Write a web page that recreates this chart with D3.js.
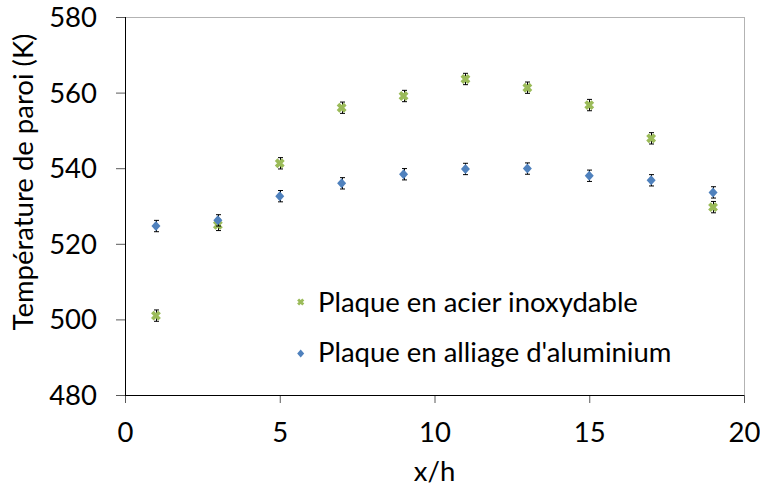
<!DOCTYPE html>
<html><head><meta charset="utf-8">
<script src="https://cdn.jsdelivr.net/npm/d3@7"></script>
<style>body{margin:0;background:#fff}svg{display:block}text{font-family:Lato,"Open Sans",sans-serif;fill:#000}</style>
</head><body>
<svg id="c" width="760" height="488"></svg>
<script>
// ---- data ----
const xValues = [1, 3, 5, 7, 9, 11, 13, 15, 17, 19];
const steel = [501.0, 525.0, 541.3, 556.0, 559.1, 563.6, 561.3, 556.7, 547.9, 529.7];
const steelErr = [1.5, 1.5, 1.5, 1.5, 1.5, 1.5, 1.5, 1.5, 1.5, 1.5];
const alu = [524.7, 526.2, 532.6, 536.0, 538.4, 539.8, 539.9, 538.0, 536.8, 533.6];
const aluErr = [1.5, 1.5, 1.5, 1.5, 1.5, 1.5, 1.5, 1.5, 1.5, 1.5];
const xTicks = [0, 5, 10, 15, 20];
const yTicks = [480, 500, 520, 540, 560, 580];
const seriesNames = ["Plaque en acier inoxydable", "Plaque en alliage d'aluminium"];
const xTitle = "x/h";
const yTitle = "Température de paroi (K)";

const svg = d3.select("#c");
const L = 125, R = 744, T = 17, B = 395;
const x = d3.scaleLinear().domain([0, 20]).range([L, R]);
const y = d3.scaleLinear().domain([480, 580]).range([B, T]);
const green = "#9BBB59", blue = "#4F81BD";

// font fitting from legend width
const probe = svg.append("text").attr("font-size", 100).text(seriesNames[0]);
const fs = 100 * 320 / probe.node().getComputedTextLength();
probe.remove();

// plot border (top/right gray)
svg.append("path").attr("d", `M${L},${T}H${R}V${B}`).attr("fill", "none").attr("stroke", "#b3b3b3").attr("stroke-width", 1).attr("shape-rendering", "crispEdges");

// axes
const yAxis = d3.axisLeft(y).tickValues(yTicks).tickSize(9).tickPadding(0).tickFormat(d3.format("d"));
const gy = svg.append("g").attr("transform", `translate(${L},0)`).call(yAxis);
gy.select(".domain").remove();
gy.selectAll(".tick line").attr("stroke", "#595959");
gy.selectAll(".tick text").attr("x", -28).attr("dy", null).attr("y", 9.5).attr("text-anchor", "end")
  .attr("font-family", "Lato").style("font-size", fs + "px");

const xAxis = d3.axisBottom(x).tickValues(xTicks).tickSize(8).tickPadding(0);
const gx = svg.append("g").attr("transform", `translate(0,${B})`).call(xAxis);
gx.select(".domain").remove();
gx.selectAll(".tick line").attr("stroke", "#595959");
gx.selectAll(".tick text").attr("dy", null).attr("y", 47).attr("text-anchor", "middle")
  .style("font-size", fs + "px").attr("font-family", "Lato");

svg.append("line").attr("x1", L).attr("x2", L).attr("y1", T).attr("y2", B).attr("stroke", "#000").attr("shape-rendering", "crispEdges");
svg.append("line").attr("x1", L).attr("x2", R).attr("y1", B).attr("y2", B).attr("stroke", "#000").attr("shape-rendering", "crispEdges");

// titles
svg.append("text").attr("x", (L + R) / 2).attr("y", 481).attr("text-anchor", "middle").style("font-size", fs + "px").text(xTitle);
svg.append("text").attr("transform", `translate(33,182) rotate(-90)`).attr("text-anchor", "middle").style("font-size", fs + "px").text(yTitle);

// series
function errBars(vals, errs) {
  const g = svg.append("g").attr("stroke", "#000").attr("stroke-width", 1);
  xValues.forEach((xv, i) => {
    const cx = Math.round(x(xv)) + 0.5;
    const y1 = y(vals[i] + errs[i]), y2 = y(vals[i] - errs[i]);
    g.append("line").attr("x1", cx).attr("x2", cx).attr("y1", y1).attr("y2", y2);
    g.append("line").attr("x1", cx - 2.5).attr("x2", cx + 2.5).attr("y1", y1).attr("y2", y1);
    g.append("line").attr("x1", cx - 2.5).attr("x2", cx + 2.5).attr("y1", y2).attr("y2", y2);
  });
}
function xMark(cx, cy, s, w) {
  return svg.append("path").attr("d", `M${cx - s},${cy - s}L${cx + s},${cy + s}M${cx - s},${cy + s}L${cx + s},${cy - s}`)
    .attr("stroke", green).attr("stroke-width", w).attr("fill", "none");
}
function diamond(cx, cy, hw, hh) {
  return svg.append("path").attr("d", `M${cx},${cy - hh}L${cx + hw},${cy}L${cx},${cy + hh}L${cx - hw},${cy}Z`).attr("fill", blue);
}
errBars(steel, steelErr);
xValues.forEach((xv, i) => xMark(x(xv), y(steel[i]), 3.6, 3.8));
errBars(alu, aluErr);
xValues.forEach((xv, i) => diamond(x(xv), y(alu[i]), 4.5, 5));

// legend
xMark(300.7, 302, 2.6, 2.8);
svg.append("text").attr("x", 318).attr("y", 311.7).style("font-size", fs + "px").text(seriesNames[0]);
diamond(300.7, 353.5, 3.5, 4);
svg.append("text").attr("x", 318).attr("y", 362).style("font-size", fs + "px").text(seriesNames[1]);
</script>
</body></html>
